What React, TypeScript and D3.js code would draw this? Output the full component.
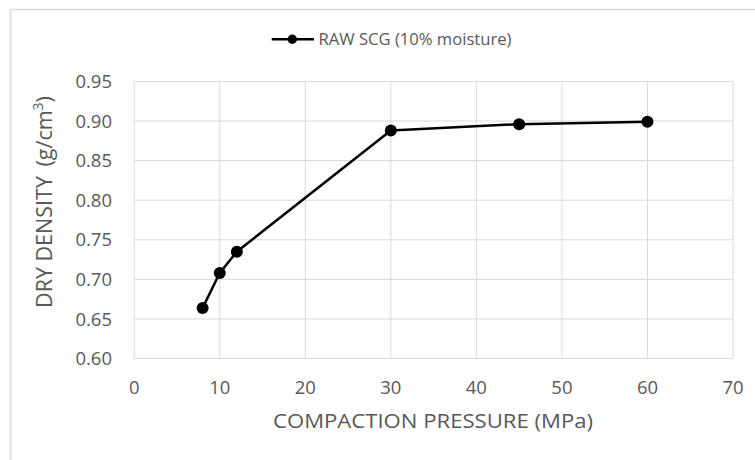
import React from "react";
import * as d3 from "d3";

const pressures = [8, 10, 12, 30, 45, 60];
const densities = [0.664, 0.708, 0.735, 0.888, 0.896, 0.899];
const xTicks = [0, 10, 20, 30, 40, 50, 60, 70];
const yTicks = [0.6, 0.65, 0.7, 0.75, 0.8, 0.85, 0.9, 0.95];
const seriesName = "RAW SCG (10% moisture)";
const xTitle = "COMPACTION PRESSURE (MPa)";

const W = 755;
const H = 460;
const FONT = "'Open Sans', 'Liberation Sans', sans-serif";
const GRID = "#d9d9d9";
const TXT = "#595959";

export default function App() {
  const x = d3.scaleLinear().domain([0, 70]).range([134.2, 733]);
  const y = d3.scaleLinear().domain([0.6, 0.95]).range([358.6, 81.4]);
  const pts = pressures.map((p, i) => [p, densities[i]] as [number, number]);
  const line = d3
    .line<[number, number]>()
    .x((d) => x(d[0]))
    .y((d) => y(d[1]));

  return (
    <svg
      width={W}
      height={H}
      style={{ position: "absolute", left: 0, top: 0, background: "#fff" }}
      fontFamily={FONT}
    >
      <rect x={0} y={0} width={W} height={H} fill="#fff" />
      {/* outer chart frame */}
      <line x1={10.5} y1={9.5} x2={W} y2={9.5} stroke={GRID} strokeWidth={1.5} />
      <line x1={10.5} y1={9.5} x2={10.5} y2={H} stroke={GRID} strokeWidth={1.5} />

      {/* gridlines */}
      {yTicks.map((t) => (
        <line key={"gy" + t} x1={x(0)} x2={x(70)} y1={y(t)} y2={y(t)} stroke={GRID} strokeWidth={1} />
      ))}
      {xTicks.map((t) => (
        <line key={"gx" + t} x1={x(t)} x2={x(t)} y1={y(0.95)} y2={y(0.6)} stroke={GRID} strokeWidth={1} />
      ))}

      {/* tick labels */}
      {yTicks.map((t) => (
        <text
          key={"ty" + t}
          x={112}
          y={y(t)}
          dy="0.36em"
          textAnchor="end"
          fontSize={18.5}
          fill={TXT}
        >
          {t.toFixed(2)}
        </text>
      ))}
      {xTicks.map((t) => (
        <text
          key={"tx" + t}
          x={x(t)}
          y={387}
          dy="0.36em"
          textAnchor="middle"
          fontSize={18.5}
          fill={TXT}
        >
          {t}
        </text>
      ))}

      {/* axis titles */}
      <text x={433} y={421} dy="0.36em" textAnchor="middle" fontSize={20.5} fill={TXT} textLength={320} lengthAdjust="spacingAndGlyphs">
        {xTitle}
      </text>
      <text transform="translate(52,202) rotate(-90)" textAnchor="middle" fontSize={21.5} fill={TXT}>
        <tspan>DRY DENSITY </tspan>
        <tspan dx={4}>(g/cm</tspan>
        <tspan fontSize={14} dy={-9}>3</tspan>
        <tspan dy={9}>)</tspan>
      </text>

      {/* series */}
      <path d={line(pts) || ""} fill="none" stroke="#000" strokeWidth={2.5} strokeLinejoin="round" />
      {pts.map((d, i) => (
        <circle key={"p" + i} cx={x(d[0])} cy={y(d[1])} r={6} fill="#000" />
      ))}

      {/* legend */}
      <line x1={271.7} x2={314} y1={39.3} y2={39.3} stroke="#000" strokeWidth={2.5} />
      <circle cx={292.3} cy={39.3} r={4.7} fill="#000" />
      <text x={318.5} y={39.3} dy="0.36em" fontSize={15.5} fill={TXT} textLength={193} lengthAdjust="spacingAndGlyphs">
        {seriesName}
      </text>
    </svg>
  );
}
